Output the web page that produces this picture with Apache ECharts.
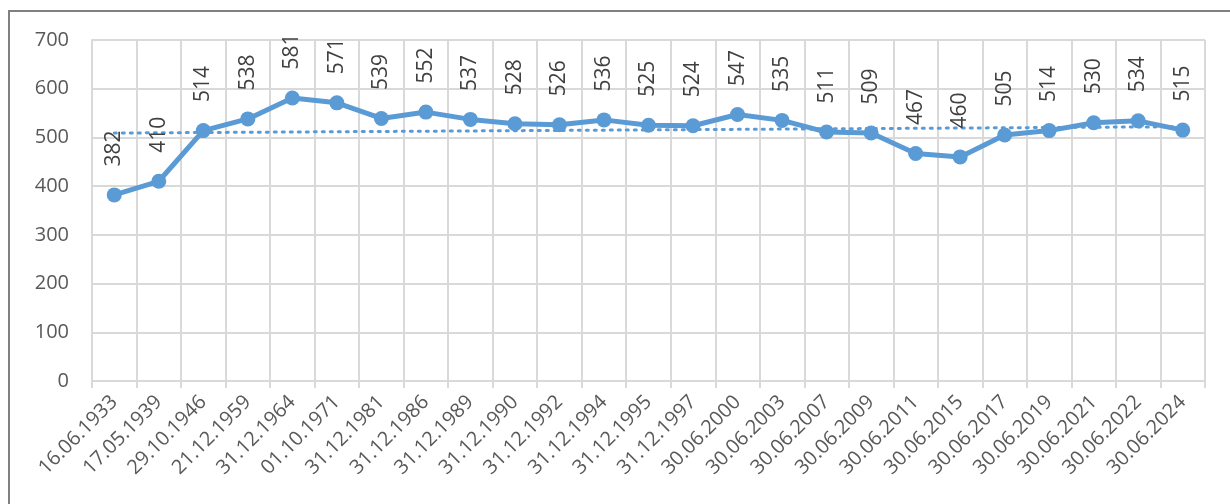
<!DOCTYPE html>
<html>
<head>
<meta charset="utf-8">
<script src="https://cdn.jsdelivr.net/npm/echarts@6/dist/echarts.min.js"></script>
<style>
  html, body { margin: 0; padding: 0; background: #fff; }
  #chart { width: 1230px; height: 504px; }
</style>
</head>
<body>
<div id="chart"></div>
<script>
  // dates on the x axis
  var dates = [
    '16.06.1933', '17.05.1939', '29.10.1946', '21.12.1959', '31.12.1964',
    '01.10.1971', '31.12.1981', '31.12.1986', '31.12.1989', '31.12.1990',
    '31.12.1992', '31.12.1994', '31.12.1995', '31.12.1997', '30.06.2000',
    '30.06.2003', '30.06.2007', '30.06.2009', '30.06.2011', '30.06.2015',
    '30.06.2017', '30.06.2019', '30.06.2021', '30.06.2022', '30.06.2024'
  ]
  // values
  var values = [382, 410, 514, 538, 581, 571, 539, 552, 537, 528, 526, 536, 525,
    524, 547, 535, 511, 509, 467, 460, 505, 514, 530, 534, 515]
  // trendline ends
  var trendEnds = [509, 522]
  var yTicks = [0, 100, 200, 300, 400, 500, 600, 700]

  var blue = '#5B9BD5'
  var chart = echarts.init(document.getElementById('chart'))
  chart.setOption({
    animation: false,
    textStyle: { fontFamily: 'Open Sans' },
    graphic: [{
      type: 'rect',
      shape: { x: 9, y: 11, width: 1240, height: 600 },
      style: { fill: 'none', stroke: '#808080', lineWidth: 2 },
      silent: true
    }],
    grid: { left: 92, right: 25, top: 40, bottom: 123 },
    xAxis: {
      type: 'category',
      data: dates,
      boundaryGap: true,
      axisLine: { lineStyle: { color: '#d9d9d9', width: 2 } },
      axisTick: { show: true, length: 7, lineStyle: { color: '#d9d9d9', width: 2 } },
      splitLine: { show: true, lineStyle: { color: '#d9d9d9', width: 2 } },
      axisLabel: { rotate: 45, fontSize: 20, color: '#595959', margin: 18, interval: 0 }
    },
    yAxis: {
      type: 'value',
      min: yTicks[0],
      max: yTicks[yTicks.length - 1],
      interval: 100,
      axisLine: { show: true, lineStyle: { color: '#d9d9d9', width: 2 } },
      splitLine: { lineStyle: { color: '#d9d9d9', width: 2 } },
      axisLabel: { fontSize: 20, color: '#595959', margin: 23 }
    },
    series: [
      {
        name: 'trend',
        type: 'line',
        z: 1,
        symbol: 'none',
        data: [[0, trendEnds[0]], [dates.length - 1, trendEnds[1]]],
        lineStyle: { color: blue, width: 3, type: [2, 6], cap: 'round' }
      },
      {
        name: 'values',
        type: 'line',
        z: 3,
        data: values,
        symbol: 'circle',
        symbolSize: 15,
        itemStyle: { color: blue },
        lineStyle: { color: blue, width: 5 },
        label: {
          show: true,
          position: 'top',
          distance: 21,
          rotate: 90,
          align: 'left',
          verticalAlign: 'middle',
          fontSize: 21,
          color: '#404040'
        }
      }
    ]
  })
</script>
</body>
</html>
